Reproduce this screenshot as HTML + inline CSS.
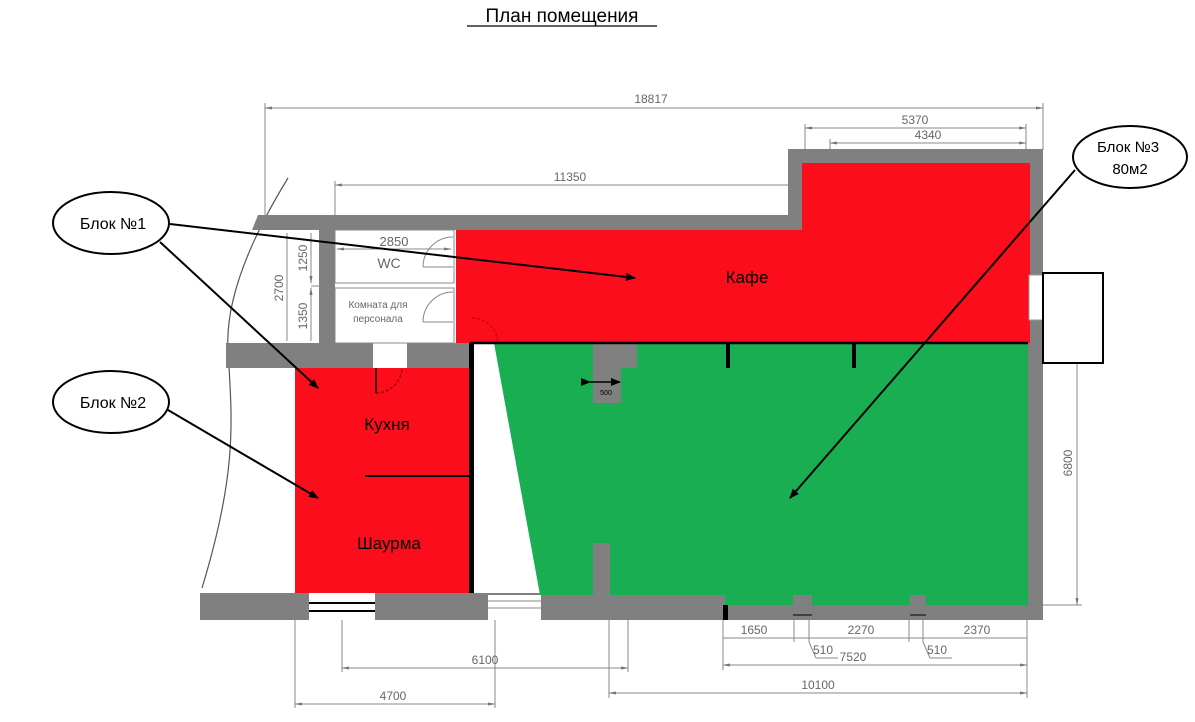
<!DOCTYPE html>
<html><head><meta charset="utf-8"><style>
html,body{margin:0;padding:0;background:#fff;}
svg{display:block;}
</style></head><body>
<svg width="1195" height="722" viewBox="0 0 1195 722" xmlns="http://www.w3.org/2000/svg" font-family="Liberation Sans, DejaVu Sans, sans-serif">
<defs>
<marker id="ah" markerWidth="10" markerHeight="8" refX="9" refY="4" orient="auto" markerUnits="userSpaceOnUse"><path d="M0,0 L10,4 L0,8 z" fill="#000"/></marker>
<marker id="dh" markerWidth="8" markerHeight="6" refX="7" refY="3" orient="auto-start-reverse" markerUnits="userSpaceOnUse"><path d="M0,1.5 L8,3 L0,4.5 z" fill="#777"/></marker>
</defs>
<!-- title -->
<text x="562" y="22" font-size="19" text-anchor="middle" font-family="Liberation Sans, DejaVu Sans, sans-serif">План помещения</text>
<line x1="467" y1="26" x2="657" y2="26" stroke="#000" stroke-width="1.2"/>

<!-- dimension lines -->
<g stroke="#888" stroke-width="1" fill="none">
<line x1="265" y1="108" x2="1043" y2="108" marker-start="url(#dh)" marker-end="url(#dh)"/>
<line x1="265" y1="103" x2="265" y2="215"/>
<line x1="1043" y1="103" x2="1043" y2="150"/>
<line x1="805" y1="128" x2="1026" y2="128" marker-start="url(#dh)" marker-end="url(#dh)"/>
<line x1="805" y1="124" x2="805" y2="165"/>
<line x1="1026" y1="124" x2="1026" y2="165"/>
<line x1="830" y1="143" x2="1026" y2="143" marker-start="url(#dh)" marker-end="url(#dh)"/>
<line x1="830" y1="139" x2="830" y2="165"/>
<line x1="335" y1="185" x2="802" y2="185" marker-start="url(#dh)" marker-end="url(#dh)"/>
<line x1="335" y1="181" x2="335" y2="230"/>
<line x1="1077" y1="320" x2="1077" y2="605" marker-start="url(#dh)" marker-end="url(#dh)"/>
<line x1="1030" y1="320" x2="1082" y2="320"/>
<line x1="1043" y1="605" x2="1082" y2="605"/>
<!-- vertical dims left -->
<line x1="287" y1="233" x2="287" y2="341"/>
<line x1="311" y1="233" x2="311" y2="283" marker-end="url(#dh)"/>
<line x1="311" y1="288" x2="311" y2="341" marker-start="url(#dh)"/>
<line x1="311" y1="286" x2="319" y2="286"/>
<line x1="337" y1="249" x2="451" y2="249" marker-start="url(#dh)" marker-end="url(#dh)"/>
<!-- bottom dims -->
<line x1="723" y1="638" x2="1027" y2="638"/>
<line x1="723" y1="665" x2="1027" y2="665" marker-start="url(#dh)" marker-end="url(#dh)"/>
<line x1="609" y1="693" x2="1027" y2="693" marker-start="url(#dh)" marker-end="url(#dh)"/>
<line x1="342" y1="668" x2="628" y2="668" marker-start="url(#dh)" marker-end="url(#dh)"/>
<line x1="295" y1="704" x2="495" y2="704" marker-start="url(#dh)" marker-end="url(#dh)"/>
<line x1="723" y1="620" x2="723" y2="670"/>
<line x1="1027" y1="620" x2="1027" y2="698"/>
<line x1="794" y1="620" x2="794" y2="642"/>
<line x1="809" y1="620" x2="809" y2="642"/>
<line x1="909" y1="620" x2="909" y2="642"/>
<line x1="923" y1="620" x2="923" y2="642"/>
<line x1="809" y1="642" x2="816" y2="658"/><line x1="816" y1="658" x2="838" y2="658"/>
<line x1="923" y1="642" x2="930" y2="658"/><line x1="930" y1="658" x2="952" y2="658"/>
<line x1="609" y1="600" x2="609" y2="698"/>
<line x1="628" y1="600" x2="628" y2="672"/>
<line x1="342" y1="620" x2="342" y2="672"/>
<line x1="295" y1="620" x2="295" y2="708"/>
<line x1="495" y1="620" x2="495" y2="708"/>
</g>
<g font-size="12" fill="#666" text-anchor="middle">
<text x="651" y="103">18817</text>
<text x="915" y="124">5370</text>
<text x="928" y="139">4340</text>
<text x="570" y="181">11350</text>
<text x="394" y="246" font-size="13">2850</text>
<text x="389" y="268" font-size="14">WC</text>
<text x="378" y="308" font-size="10">Комната для</text>
<text x="378" y="322" font-size="10">персонала</text>
<text x="754" y="634">1650</text>
<text x="861" y="634">2270</text>
<text x="977" y="634">2370</text>
<text x="823" y="654">510</text>
<text x="937" y="654">510</text>
<text x="853" y="661">7520</text>
<text x="818" y="689">10100</text>
<text x="485" y="664">6100</text>
<text x="393" y="700">4700</text>
<text transform="translate(1072,463) rotate(-90)">6800</text>
<text transform="translate(283,288) rotate(-90)">2700</text>
<text transform="translate(307,258) rotate(-90)">1250</text>
<text transform="translate(307,316) rotate(-90)">1350</text>
</g>

<!-- curved facade line -->
<path d="M288,178 C250,240 225,300 228,350 C232,420 238,470 202,588" fill="none" stroke="#555" stroke-width="1.2"/>

<!-- walls gray -->
<g fill="#808080">
<polygon points="258,215 788,215 788,149 1043,149 1043,620 1028,620 1028,163 802,163 802,230 252,230"/>
<rect x="319" y="230" width="16" height="113"/>
<rect x="226" y="343" width="147" height="25"/>
<rect x="407" y="343" width="63" height="25"/>
<rect x="200" y="593" width="525" height="27"/>
<rect x="725" y="605" width="318" height="15"/>
<polygon points="593,343 637,343 637,368 621,368 621,403 593,403"/>
<rect x="593" y="543" width="17" height="62"/>
</g>
<!-- small rooms outlines -->
<g fill="none" stroke="#888" stroke-width="1">
<rect x="335" y="230" width="119" height="53"/>
<rect x="335" y="288" width="119" height="55"/>
<path d="M423,267 A30,30 0 0 1 453,237 M423,267 L453,267"/>
<path d="M423,322 A30,30 0 0 1 453,292 M423,322 L453,322"/>
</g>

<!-- red areas -->
<rect x="456" y="230" width="574" height="113" fill="#fc0d1b"/>
<rect x="802" y="163" width="228" height="67" fill="#fc0d1b"/>
<rect x="295" y="368" width="175" height="225" fill="#fc0d1b"/>
<path d="M472,318 A26,26 0 0 1 498,343" fill="none" stroke="#b00" stroke-width="1" stroke-dasharray="3,2"/>
<path d="M376,368 L376,393 A26,26 0 0 0 402,368" fill="none" stroke="#800" stroke-width="1.2" stroke-dasharray="3,2"/>
<line x1="376" y1="368" x2="376" y2="393" stroke="#400" stroke-width="2"/>

<!-- green -->
<polygon points="494,343 1028,343 1028,605 725,605 725,595 540,595" fill="#1aae52"/>
<polygon points="593,343 637,343 637,368 621,368 621,403 593,403" fill="#808080"/>
<rect x="593" y="543" width="17" height="62" fill="#808080"/>
<rect x="793" y="595" width="19" height="20" fill="#808080"/>
<rect x="910" y="595" width="16" height="20" fill="#808080"/>
<line x1="793" y1="615" x2="812" y2="615" stroke="#000" stroke-width="1"/>
<line x1="910" y1="615" x2="926" y2="615" stroke="#000" stroke-width="1"/>
<rect x="723" y="605" width="5" height="15" fill="#000"/>
<line x1="590" y1="382" x2="620" y2="382" stroke="#000" stroke-width="1.5" marker-start="url(#ah)" marker-end="url(#ah)"/>
<text x="606" y="395" font-size="7" text-anchor="middle">500</text>

<!-- black lines -->
<line x1="470" y1="343" x2="1028" y2="343" stroke="#000" stroke-width="2.5"/>
<rect x="469" y="343" width="5" height="250" fill="#000"/>
<line x1="365" y1="476" x2="474" y2="476" stroke="#000" stroke-width="2"/>
<rect x="726" y="343" width="4" height="25" fill="#000"/>
<rect x="852" y="343" width="4" height="25" fill="#000"/>

<!-- windows -->
<rect x="309" y="593" width="66" height="27" fill="#fff"/>
<line x1="309" y1="603" x2="375" y2="603" stroke="#000" stroke-width="2"/>
<line x1="309" y1="611" x2="375" y2="611" stroke="#000" stroke-width="2"/>
<rect x="488" y="595" width="53" height="25" fill="#fff"/>
<line x1="488" y1="601" x2="541" y2="601" stroke="#888"/>
<line x1="488" y1="608" x2="541" y2="608" stroke="#888"/>
<rect x="1029" y="275" width="14" height="45" fill="#fff" stroke="#999"/>
<rect x="1043" y="273" width="60" height="90" fill="#fff" stroke="#000" stroke-width="2"/>

<!-- labels -->
<g font-family="Liberation Sans, DejaVu Sans, sans-serif" font-size="17" text-anchor="middle" fill="#000">
<text x="747" y="283">Кафе</text>
<text x="387" y="430">Кухня</text>
<text x="389" y="549">Шаурма</text>
</g>

<!-- callouts -->
<g fill="#fff" stroke="#000" stroke-width="2">
<ellipse cx="111" cy="223" rx="58" ry="31"/>
<ellipse cx="111" cy="402" rx="58" ry="31"/>
<ellipse cx="1130" cy="157" rx="57" ry="31"/>
</g>
<g font-size="16" text-anchor="middle">
<text x="113" y="229">Блок №1</text>
<text x="113" y="408">Блок №2</text>
<text x="1128" y="152" font-size="15">Блок №3</text>
<text x="1130" y="174" font-size="15">80м2</text>
</g>
<g stroke="#000" stroke-width="2" fill="none">
<line x1="170" y1="224" x2="635" y2="278" marker-end="url(#ah)"/>
<line x1="160" y1="242" x2="318" y2="388" marker-end="url(#ah)"/>
<line x1="168" y1="410" x2="318" y2="498" marker-end="url(#ah)"/>
<line x1="1075" y1="170" x2="790" y2="498" marker-end="url(#ah)"/>
</g>
</svg>
</body></html>
